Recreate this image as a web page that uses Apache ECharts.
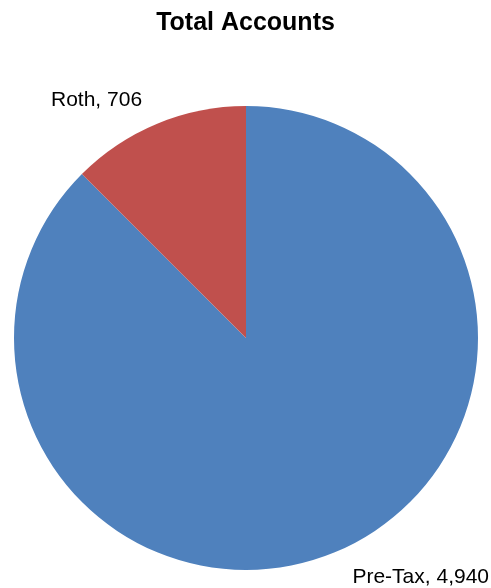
<!DOCTYPE html>
<html>
<head>
<meta charset="utf-8">
<script src="https://cdn.jsdelivr.net/npm/echarts@6/dist/echarts.min.js"></script>
<style>
html,body{margin:0;padding:0;background:#fff;}
#chart{width:491px;height:588px;}
</style>
</head>
<body>
<div id="chart"></div>
<script>
const categories = ['Pre-Tax', 'Roth'];
const values = [4940, 706];
const colors = ['#4F81BD', '#C0504D'];
const titleText = 'Total Accounts';

const chart = echarts.init(document.getElementById('chart'), null, {renderer: 'canvas'});
chart.setOption({
  animation: false,
  title: {
    text: titleText,
    left: 'center',
    top: 6,
    textStyle: {fontFamily: 'Liberation Sans, Arial, sans-serif', fontSize: 25, fontWeight: 'bold', color: '#000'}
  },
  series: [{
    type: 'pie',
    center: [246, 338],
    radius: 232,
    startAngle: 90,
    clockwise: true,
    avoidLabelOverlap: false,
    data: categories.map((c, i) => ({name: c, value: values[i], itemStyle: {color: colors[i]}})),
    label: {
      show: true,
      position: 'outside',
      alignTo: 'none',
      overflow: 'none',
      width: 300,
      formatter: p => p.name + ', ' + p.value.toLocaleString('en-US'),
      fontFamily: 'Liberation Sans, Arial, sans-serif',
      fontSize: 21,
      color: '#000'
    },
    labelLine: {show: false},
    labelLayout: function (p) {
      if (p.dataIndex === 0) return {x: 489, y: 577, align: 'right', verticalAlign: 'middle'};
      return {x: 51, y: 100, align: 'left', verticalAlign: 'middle'};
    },
    itemStyle: {borderWidth: 0},
    emphasis: {disabled: true}
  }]
});
</script>
</body>
</html>
